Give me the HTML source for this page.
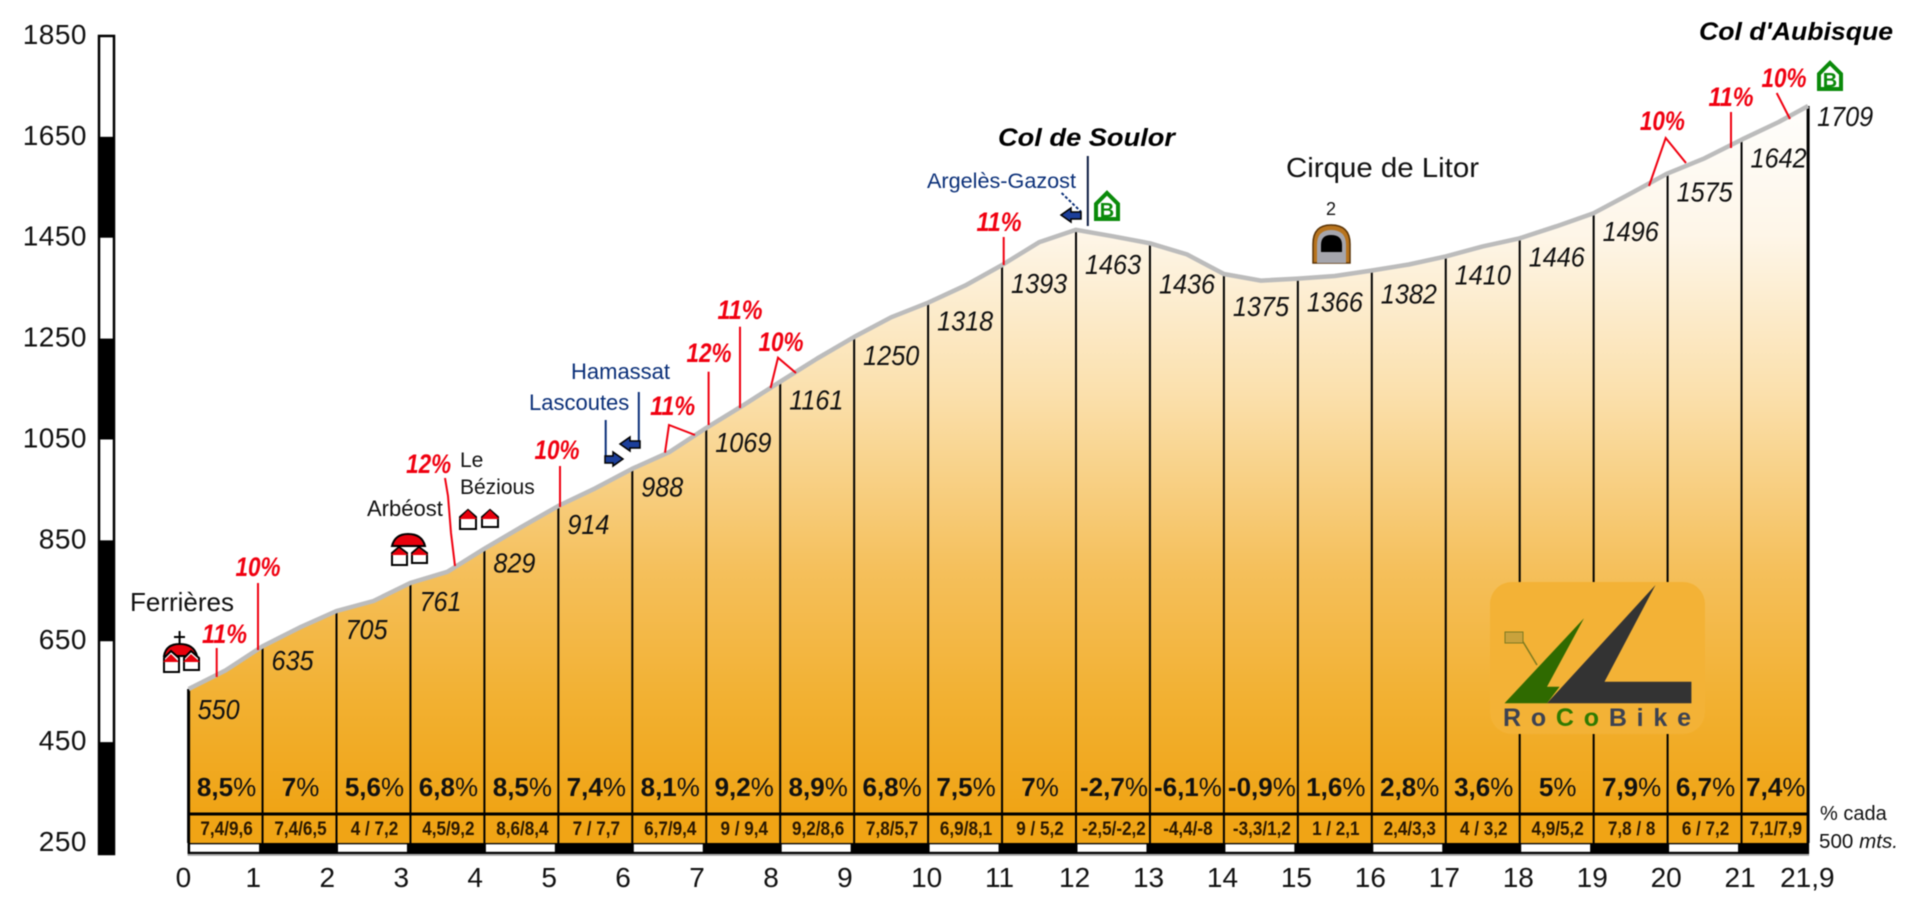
<!DOCTYPE html>
<html lang="es">
<head>
<meta charset="utf-8">
<title>Col d'Aubisque profile</title>
<style>
html,body{margin:0;padding:0;background:#fff;width:1920px;height:912px;overflow:hidden}
svg{display:block;position:absolute;left:0;top:0;filter:blur(0.5px)}
text{font-family:"Liberation Sans",sans-serif}
.pct{font-style:italic;font-weight:bold;font-size:27px;fill:#f00010;text-anchor:middle}
.place{font-size:22px;fill:#111}
.blue{font-size:22px;fill:#0a2f78}
.col{font-size:25px;font-weight:bold;font-style:italic;fill:#000}
.axis{font-size:28px;fill:#111}
.elev{font-size:28px;font-style:italic;fill:#111}
.grade{font-size:26px;font-weight:bold;fill:#111;text-anchor:middle}
.sub{font-size:19px;font-weight:bold;fill:#2a1800;text-anchor:middle}
</style>
</head>
<body>
<svg id="chart" width="1920" height="912" viewBox="0 0 1920 912" xmlns="http://www.w3.org/2000/svg">
<defs>
<linearGradient id="fillGrad" gradientUnits="userSpaceOnUse" x1="0" y1="90" x2="0" y2="814">
<stop offset="0" stop-color="#ffffff"/>
<stop offset="0.2" stop-color="#fef6e8"/>
<stop offset="0.42" stop-color="#fbe0ac"/>
<stop offset="0.66" stop-color="#f5c05c"/>
<stop offset="0.85" stop-color="#f2b030"/>
<stop offset="1" stop-color="#f0a415"/>
</linearGradient>
</defs>
<g id="yAxisBar"></g>
<g id="yLabels"></g>
<g id="area"></g>
<g id="strip"></g>
<g id="verticals"></g>

<g>
<rect x="1490" y="582" width="215" height="152" rx="22" fill="#f3b236"/>
<polygon points="1655.5,585 1604.5,681.7 1691.4,681.7 1691.4,703.3 1547,703.3" fill="#333333"/>
<polygon points="1584,618.3 1547,686.7 1559.6,686.7 1547,703.3 1504.5,703.3" fill="#2f6a00"/>
<line x1="1523" y1="641.7" x2="1537" y2="665" stroke="#7d7a20" stroke-width="1.5"/>
<rect x="1505" y="632" width="18" height="11" fill="#c9a23c" stroke="#7d7a20"/>
<text x="1503" y="726" font-size="25" font-weight="bold" textLength="188" fill="#3c4252">Ro<tspan fill="#2f7a00">Co</tspan>Bike</text>
</g>

<g id="profileLine"></g>
<g id="elevLabels"></g>
<g id="gradeLabels"></g>
<g id="subLabels"></g>
<g id="xLabels"></g>

<g fill="none" stroke="#f00010" stroke-width="2">
<polyline points="216.7,648 216.7,677"/>
<polyline points="258,583 258,650"/>
<polyline points="445,478 448,496 451,533 455,566"/>
<polyline points="560,466 560,507"/>
<polyline points="665,452.7 669,425 695,435"/>
<polyline points="708.6,371.7 708.6,425"/>
<polyline points="740,326.7 740,408"/>
<polyline points="770.6,388 778,357.7 796,373"/>
<polyline points="1003.7,237 1003.7,265"/>
<polyline points="1649,186 1665.7,138 1686,163"/>
<polyline points="1731,112 1731,148"/>
<polyline points="1776.7,93 1790,119"/>
</g>
<g>
<text class="pct" x="224.5" y="643" textLength="45" lengthAdjust="spacingAndGlyphs">11%</text>
<text class="pct" x="258" y="576" textLength="45" lengthAdjust="spacingAndGlyphs">10%</text>
<text class="pct" x="428.6" y="473" textLength="45" lengthAdjust="spacingAndGlyphs">12%</text>
<text class="pct" x="557" y="459" textLength="45" lengthAdjust="spacingAndGlyphs">10%</text>
<text class="pct" x="672.6" y="415" textLength="45" lengthAdjust="spacingAndGlyphs">11%</text>
<text class="pct" x="709" y="362" textLength="45" lengthAdjust="spacingAndGlyphs">12%</text>
<text class="pct" x="740" y="319" textLength="45" lengthAdjust="spacingAndGlyphs">11%</text>
<text class="pct" x="781" y="351" textLength="45" lengthAdjust="spacingAndGlyphs">10%</text>
<text class="pct" x="999" y="231" textLength="45" lengthAdjust="spacingAndGlyphs">11%</text>
<text class="pct" x="1662.4" y="130" textLength="45" lengthAdjust="spacingAndGlyphs">10%</text>
<text class="pct" x="1731" y="106" textLength="45" lengthAdjust="spacingAndGlyphs">11%</text>
<text class="pct" x="1784" y="87" textLength="45" lengthAdjust="spacingAndGlyphs">10%</text>
</g>

<g>
<text class="place" x="130" y="611" style="font-size:26px">Ferrières</text>
<text class="place" x="367" y="516">Arbéost</text>
<text class="place" x="460" y="467" style="font-size:21px">Le</text>
<text class="place" x="460" y="494" style="font-size:21px">Bézious</text>
<text class="blue" x="571" y="379">Hamassat</text>
<text class="blue" x="529" y="410">Lascoutes</text>
<text class="blue" x="927" y="188" style="font-size:21px" textLength="149" lengthAdjust="spacingAndGlyphs">Argelès-Gazost</text>
<text class="col" x="998" y="146" textLength="177" lengthAdjust="spacingAndGlyphs">Col de Soulor</text>
<text x="1286" y="177" font-size="28" fill="#111" textLength="193" lengthAdjust="spacingAndGlyphs">Cirque de Litor</text>
<text x="1331" y="215" font-size="18" fill="#111" text-anchor="middle">2</text>
<text class="col" x="1699" y="40" textLength="194" lengthAdjust="spacingAndGlyphs">Col d'Aubisque</text>
<text x="1820" y="820" font-size="20" fill="#111">% cada</text>
<text x="1819" y="848" font-size="20" fill="#111" textLength="79" lengthAdjust="spacingAndGlyphs">500 <tspan font-style="italic">mts.</tspan></text>
</g>

<g fill="none" stroke="#0a2f78" stroke-width="2">
<line x1="638.8" y1="392" x2="638.8" y2="442"/>
<line x1="605.7" y1="420" x2="605.7" y2="456"/>
<line x1="1087.8" y1="156" x2="1087.8" y2="226" stroke="#0a1a40"/>
<line x1="1061.6" y1="193" x2="1081" y2="211.7" stroke-dasharray="3 2"/>
<polygon points="620,444 630,437 630,441 640,441 640,448 630,448 630,451" fill="#1c3f9a" stroke="#000" stroke-width="1.5"/>
<polygon points="623,459 613,452 613,456 605,456 605,463 613,463 613,466" fill="#1c3f9a" stroke="#000" stroke-width="1.5"/>
<polygon points="1061,215 1071,208 1071,212 1081,212 1081,219 1071,219 1071,222" fill="#1c3f9a" stroke="#000" stroke-width="1.5"/>
</g>

<g>
<path d="M1107 193 L1118 204 L1118 219 L1096 219 L1096 204 Z" fill="#fff" stroke="#0a8a0a" stroke-width="4"/>
<text x="1107" y="217" font-size="20" font-weight="bold" fill="#0a8a0a" text-anchor="middle">B</text>
</g>
<g>
<path d="M1830 63 L1841 74 L1841 89 L1819 89 L1819 74 Z" fill="#fff" stroke="#0a8a0a" stroke-width="4"/>
<text x="1830" y="87" font-size="20" font-weight="bold" fill="#0a8a0a" text-anchor="middle">B</text>
</g>

<g>
<path d="M1313 263 L1313 244 Q1313 225 1331 225 Q1350 225 1350 244 L1350 263 Z" fill="#b8741e" stroke="#5a3408" stroke-width="1.5"/>
<path d="M1317 263 L1317 245 Q1317 230 1331 230 Q1346 230 1346 245 L1346 263 Z" fill="#a5a5ac"/>
<path d="M1321 252 L1321 245 Q1321 235 1331 235 Q1342 235 1342 245 L1342 252 Z" fill="#000"/>
</g>

<g stroke="#000" stroke-width="2">
<path d="M179.6 631 V646 M174 637 H185" fill="none"/>
<path d="M164 656 Q166 644 179.6 644 Q194 644 197 656 Z" fill="#e8000c"/>
<path d="M164 658 L171 651 L179 658 V672 H164 Z" fill="#fff"/>
<path d="M163 662 L171 654 L179 662 Z" fill="#e8000c" stroke="none"/>
<path d="M184 658 L191 651 L199 658 V670 H184 Z" fill="#fff"/>
<path d="M183 662 L191 654 L200 662 Z" fill="#e8000c" stroke="none"/>
</g>
<g stroke="#000" stroke-width="2">
<path d="M392 546 Q395 534 408 534 Q422 534 425 546 Z" fill="#e8000c"/>
<path d="M392 553 L399 547 L407 553 V565 H392 Z" fill="#fff"/>
<path d="M391 555 L399 548 L408 555 Z" fill="#e8000c" stroke="none"/>
<path d="M412 553 L419 547 L427 553 V563 H412 Z" fill="#fff"/>
<path d="M411 555 L419 548 L428 555 Z" fill="#e8000c" stroke="none"/>
</g>
<g stroke="#000" stroke-width="2">
<path d="M460 517 L468 510 L476 517 V529 H460 Z" fill="#fff"/>
<path d="M459 519 L468 510 L477 519 Z" fill="#e8000c" stroke="none"/>
<path d="M482 517 L490 510 L498 517 V527 H482 Z" fill="#fff"/>
<path d="M481 519 L490 510 L499 519 Z" fill="#e8000c" stroke="none"/>
</g>
</svg>

<script>
const kmValues = [0,1,2,3,4,5,6,7,8,9,10,11,12,13,14,15,16,17,18,19,20,21,21.9];
const kmTickLabels = ["0","1","2","3","4","5","6","7","8","9","10","11","12","13","14","15","16","17","18","19","20","21","21,9"];
const elevations = [550,635,705,761,829,914,988,1069,1161,1250,1318,1393,1463,1436,1375,1366,1382,1410,1446,1496,1575,1642,1709];
const midElevations = [587,672,725,783,872,949,1021,1114,1207,1289,1352,1438,1450,1414,1362,1371,1394,1430,1470,1535,1605,1677];
const gradeLabels = ["8,5%","7%","5,6%","6,8%","8,5%","7,4%","8,1%","9,2%","8,9%","6,8%","7,5%","7%","-2,7%","-6,1%","-0,9%","1,6%","2,8%","3,6%","5%","7,9%","6,7%","7,4%"];
const halfKmGrades = ["7,4/9,6","7,4/6,5","4 / 7,2","4,5/9,2","8,6/8,4","7 / 7,7","6,7/9,4","9 / 9,4","9,2/8,6","7,8/5,7","6,9/8,1","9 / 5,2","-2,5/-2,2","-4,4/-8","-3,3/1,2","1 / 2,1","2,4/3,3","4 / 3,2","4,9/5,2","7,8 / 8","6 / 7,2","7,1/7,9"];
const yTicks = [1850,1650,1450,1250,1050,850,650,450,250];

const NS = "http://www.w3.org/2000/svg";
const xScale = km => 188.6 + km * 73.95;
const yProfile = v => 689 - (v - 550) * 0.503;
const yAxis = v => 843 - (v - 250) * 0.5044;
const BASE = 854, STRIP_TOP = 843, ROW_LINE = 814;

function mk(tag, attrs, parentId) {
  const e = document.createElementNS(NS, tag);
  for (const k in attrs) e.setAttribute(k, attrs[k]);
  document.getElementById(parentId).appendChild(e);
  return e;
}
function squeeze(t, factor) {
  t.setAttribute("textLength", (t.getComputedTextLength() * factor).toFixed(1));
  t.setAttribute("lengthAdjust", "spacingAndGlyphs");
}
function labelDy(i) {
  if (i === 0) return 21;
  if (i === 12) return 35;
  if (i === 13) return 41;
  if (i === 14) return 33;
  if (i === 15 || i === 16) return 24;
  if (i === 22) return 11;
  if (i === 1 || i === 4 || i === 7) return 15;
  return 19;
}
function xLabelLeft(i) {
  const km = kmValues[i];
  if (i === 0) return xScale(km) - 13;
  if (i === kmValues.length - 1) return xScale(km) - 28;
  return xScale(km) - 17;
}

// elevation scale bar
const barFrame = mk("rect", {x:99, y:yAxis(1850), width:15, height:BASE - yAxis(1850), fill:"#fff", stroke:"#000", "stroke-width":2.5}, "yAxisBar");


for (let i = 1; i < yTicks.length - 1; i += 2) {
  const top = yAxis(yTicks[i]);
  const bottom = i + 1 === yTicks.length - 1 ? BASE : yAxis(yTicks[i + 1]);
  const band = mk("rect", {x:98, y:top, width:17, height:bottom - top, fill:"#000"}, "yAxisBar");
  
  
}
yTicks.forEach(v => {
  const t = mk("text", {class:"axis", x:87, y:yAxis(v) + 8, "text-anchor":"end", "letter-spacing":"0.5"}, "yLabels");
  t.textContent = v;
  
  
});

// profile points
const pts = [];
elevations.forEach((v, i) => {
  pts.push([xScale(kmValues[i]), yProfile(v)]);
  if (i < midElevations.length) pts.push([xScale(i === 21 ? 21.5 : kmValues[i] + 0.5), yProfile(midElevations[i])]);
});
const lineStr = pts.map(p => p[0].toFixed(1) + "," + p[1].toFixed(1)).join(" ");
const area = mk("polygon", {points: xScale(0) + "," + BASE + " " + lineStr + " " + xScale(21.9) + "," + BASE, fill:"url(#fillGrad)"}, "area");



// distance strip
const stripBg = mk("rect", {x:xScale(0) - 1, y:STRIP_TOP, width:xScale(21.9) - xScale(0) + 2, height:BASE - STRIP_TOP, fill:"#000"}, "strip");


const stripEdge = mk("line", {x1:xScale(0) - 1, x2:xScale(21.9) + 1, y1:BASE + 1, y2:BASE + 1, stroke:"#999", "stroke-width":1.5}, "strip");


for (let i = 0; i < 22; i += 2) {
  const seg = mk("rect", {x:xScale(kmValues[i]) + 1.5, y:844.3, width:xScale(kmValues[i + 1]) - xScale(kmValues[i]) - 5, height:7.5, fill:"#fff"}, "strip");
  
  
}
const rowLine = mk("line", {x1:xScale(0) - 1, x2:xScale(21.9) + 1, y1:ROW_LINE, y2:ROW_LINE, stroke:"#000", "stroke-width":3}, "strip");



// km dividers
elevations.forEach((v, i) => {
  const ln = mk("line", {x1:xScale(kmValues[i]), x2:xScale(kmValues[i]), y1:yProfile(v), y2:STRIP_TOP, stroke:"#000", "stroke-width": (i === 0 || i === 22) ? 3 : 2}, "verticals");
  
  
});

// profile line
const line = mk("polyline", {points:lineStr, fill:"none", stroke:"#bcbcbc", "stroke-width":4.5, "stroke-linejoin":"round"}, "profileLine");



// elevation labels
elevations.forEach((v, i) => {
  const t = mk("text", {class:"elev", x:xScale(kmValues[i]) + 9, y:yProfile(v) + labelDy(i) + 9}, "elevLabels");
  t.textContent = v;
  squeeze(t, 0.9);
  
  
});

// grade labels
gradeLabels.forEach((g, i) => {
  const cx = (xScale(kmValues[i]) + xScale(kmValues[i + 1])) / 2 + 1;
  const t = mk("text", {class:"grade", x:cx, y:796}, "gradeLabels");
  t.textContent = g.replace("%", "");
  const s = document.createElementNS(NS, "tspan");
  s.setAttribute("font-weight", "normal");
  s.textContent = "%";
  t.appendChild(s);
  
  
  const u = mk("text", {class:"sub", x:cx, y:835}, "subLabels");
  u.textContent = halfKmGrades[i];
  squeeze(u, 0.9);
  
  
});

// x tick labels
kmTickLabels.forEach((lab, i) => {
  const t = mk("text", {class:"axis", x:xLabelLeft(i), y:887}, "xLabels");
  t.textContent = lab;
  
  
});
</script>
</body>
</html>
